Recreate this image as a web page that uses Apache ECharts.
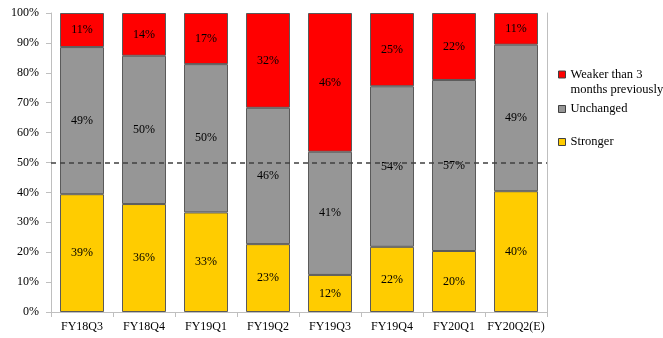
<!DOCTYPE html>
<html>
<head>
<meta charset="utf-8">
<script src="https://cdn.jsdelivr.net/npm/echarts@6/dist/echarts.min.js"></script>
<style>
html,body{margin:0;padding:0;background:#fff;}
#chart{width:663px;height:338px;}
</style>
</head>
<body>
<div id="chart"></div>
<script>
var categories = ['FY18Q3','FY18Q4','FY19Q1','FY19Q2','FY19Q3','FY19Q4','FY20Q1','FY20Q2(E)'];
var stronger  = [39.4, 36.1, 33.3, 22.7, 12.4, 21.8, 20.4, 40.4];
var unchanged = [49.2, 49.6, 49.6, 45.6, 41.2, 53.7, 57.2, 49.0];
var weaker    = [11.4, 14.3, 17.1, 31.7, 46.4, 24.5, 22.4, 10.6];
var yTicks = [0,10,20,30,40,50,60,70,80,90,100];
var refLine = 50;

var FONT = '"Liberation Serif", "DejaVu Serif", serif';
var chart = echarts.init(document.getElementById('chart'));
var lbl = {
  show: true, position: 'inside', color: '#000', fontFamily: FONT, fontSize: 12,
  formatter: function(p){ return Math.round(p.value) + '%'; }
};
function legendAt(name, top, fmt){
  return {
    data: [name], orient: 'vertical', left: 558, top: top, padding: 0,
    itemWidth: 7, itemHeight: 7, icon: 'rect', selectedMode: false,
    itemStyle: {borderColor: '#404040', borderWidth: 1},
    textStyle: {fontFamily: FONT, fontSize: 12.5, color: '#000', lineHeight: 15},
    formatter: fmt || null
  };
}
chart.setOption({
  animation: false,
  grid: {left: 51, right: 116, top: 13, bottom: 26},
  legend: [
    legendAt('Weaker than 3 months previously', 52, function(){ return ' \nWeaker than 3\nmonths previously'; }),
    legendAt('Unchanged', 101.5),
    legendAt('Stronger', 134.5)
  ],
  xAxis: {
    type: 'category', data: categories,
    axisLine: {lineStyle: {color: '#bfbfbf'}},
    axisTick: {show: true, length: 5, lineStyle: {color: '#bfbfbf'}},
    axisLabel: {color: '#000', fontFamily: FONT, fontSize: 12, margin: 9, interval: 0}
  },
  yAxis: [{
    type: 'value', min: 0, max: 100, interval: 10,
    axisLine: {show: true, lineStyle: {color: '#bfbfbf'}},
    axisTick: {show: true, length: 5, lineStyle: {color: '#bfbfbf'}},
    splitLine: {show: false},
    axisLabel: {color: '#000', fontFamily: FONT, fontSize: 12, margin: 12,
      formatter: function(v){ return yTicks.indexOf(v) >= 0 ? v + '%' : ''; }}
  }, {
    type: 'value', min: 0, max: 100, interval: 10, position: 'right',
    axisLine: {show: true, lineStyle: {color: '#bfbfbf'}},
    axisTick: {show: false}, axisLabel: {show: false}, splitLine: {show: false}
  }],
  series: [
    {name: 'Stronger', type: 'bar', stack: 'a', data: stronger, barWidth: 44,
     itemStyle: {color: '#FFCC00', borderColor: '#5a5a5a', borderWidth: 1}, label: lbl},
    {name: 'Unchanged', type: 'bar', stack: 'a', data: unchanged, barWidth: 44,
     itemStyle: {color: '#969696', borderColor: '#5a5a5a', borderWidth: 1}, label: lbl},
    {name: 'Weaker than 3 months previously', type: 'bar', stack: 'a', data: weaker, barWidth: 44,
     itemStyle: {color: '#FF0000', borderColor: '#5a5a5a', borderWidth: 1}, label: lbl,
     markLine: {silent: true, symbol: 'none', label: {show: false},
       lineStyle: {type: [5,4], color: '#404040', width: 1.5},
       data: [{yAxis: refLine}]}}
  ]
});
</script>
</body>
</html>
